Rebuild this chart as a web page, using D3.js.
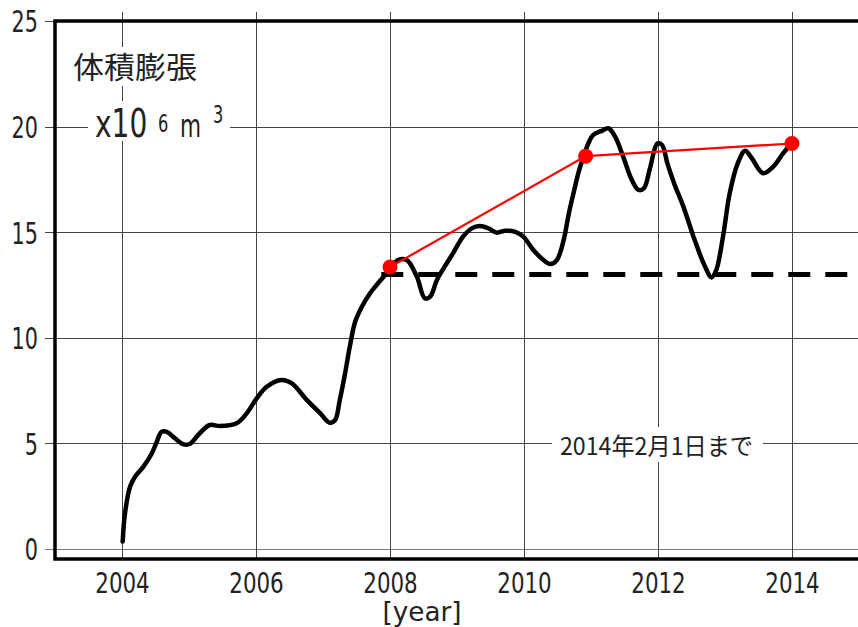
<!DOCTYPE html>
<html><head><meta charset="utf-8">
<script src="https://cdn.jsdelivr.net/npm/d3@7"></script>
<style>
html,body{margin:0;padding:0;background:#fff;}
svg{display:block;}
.num{font-family:"Liberation Sans Narrow","DejaVu Sans Condensed","Arial Narrow",sans-serif;}
.cjk{font-family:"Noto Sans CJK JP","Noto Sans CJK SC",sans-serif;}
</style>
</head><body>
<svg id="c" width="858" height="627"></svg>
<script>
// ---- data ----
const years = [2004.01,2004.045,2004.12,2004.19,2004.32,2004.44,2004.52,2004.59,2004.67,2004.79,2004.91,2005.01,2005.16,2005.31,2005.46,2005.71,2005.86,2006.01,2006.16,2006.38,2006.53,2006.76,2006.96,2007.10,2007.18,2007.25,2007.33,2007.40,2007.48,2007.58,2007.70,2007.80,2007.88,2007.97,2008.12,2008.25,2008.40,2008.52,2008.60,2008.70,2008.80,2008.94,2009.09,2009.22,2009.34,2009.47,2009.59,2009.72,2009.87,2009.99,2010.14,2010.29,2010.39,2010.49,2010.59,2010.67,2010.75,2010.82,2010.89,2010.96,2011.03,2011.16,2011.26,2011.36,2011.48,2011.61,2011.71,2011.79,2011.88,2011.99,2012.06,2012.14,2012.24,2012.38,2012.53,2012.68,2012.80,2012.87,2012.97,2013.07,2013.19,2013.30,2013.40,2013.57,2013.72,2013.87,2013.97];
const volume = [0.35,1.7,2.95,3.4,3.9,4.5,5.08,5.55,5.55,5.24,4.97,4.97,5.48,5.87,5.82,5.95,6.42,7.13,7.68,8.0,7.85,7.05,6.42,5.98,6.1,7.05,8.32,9.58,10.76,11.47,12.1,12.5,12.8,13.13,13.68,13.68,12.9,11.87,11.95,12.74,13.29,14.0,14.79,15.18,15.29,15.18,14.98,15.07,15.02,14.79,14.16,13.68,13.49,13.68,14.6,15.9,17.0,17.9,18.6,19.2,19.6,19.8,19.92,19.52,18.58,17.47,17.0,17.08,18.02,19.2,19.13,18.26,17.32,16.2,14.79,13.53,12.86,13.21,14.79,16.84,18.26,18.86,18.5,17.79,18.1,18.74,19.13];
const trendYears = [2008.0, 2010.92, 2014.0];
const trendValues = [13.35, 18.6, 19.2];
const baselineYears = [2007.87, 2015];
const baselineValue = 13;
const xTicks = [2004, 2006, 2008, 2010, 2012, 2014];
const yTicks = [0, 5, 10, 15, 20, 25];
const titleText = "体積膨張";
const dateNote = "2014年2月1日まで";
const xLabel = "[year]";

// ---- scales ----
const svg = d3.select("#c");
const x = d3.scaleLinear().domain([2003, 2015]).range([55, 859]);
const y = d3.scaleLinear().domain([0, 25]).range([549, 21]);
const frameBottom = 559, frameLeft = 55, frameRight = 858, frameTop = y(25);

// gridlines
const grid = svg.append("g").attr("stroke", "#444").attr("stroke-width", 1).attr("shape-rendering", "crispEdges");
grid.selectAll("line.h").data(yTicks).join("line")
  .attr("x1", 45).attr("x2", frameRight)
  .attr("y1", d => Math.round(y(d)) + 0.5).attr("y2", d => Math.round(y(d)) + 0.5)
  .attr("stroke", d => d === 0 ? "#777" : "#444");
grid.selectAll("line.v").data(xTicks).join("line")
  .attr("x1", d => Math.round(x(d)) + 0.5).attr("x2", d => Math.round(x(d)) + 0.5)
  .attr("y1", 12).attr("y2", frameBottom);

const digitW = 13.2;
// axes (labels only)
const yAxis = svg.append("g").attr("transform", `translate(${frameLeft},0)`)
  .call(d3.axisLeft(y).tickValues(yTicks).tickSize(0).tickPadding(17).tickFormat(d3.format("d")));
yAxis.select(".domain").remove();
yAxis.selectAll("text").attr("class", "num").attr("font-size", 30).attr("fill", "#222").attr("dy", "0.36em")
  .attr("textLength", d => String(d).length * digitW).attr("lengthAdjust", "spacingAndGlyphs");

const xAxis = svg.append("g").attr("transform", `translate(0,${frameBottom})`)
  .call(d3.axisBottom(x).tickValues(xTicks).tickSize(0).tickPadding(13).tickFormat(d3.format("d")));
xAxis.select(".domain").remove();
xAxis.selectAll("text").attr("class", "num").attr("font-size", 29).attr("fill", "#222").attr("dy", "0.71em")
  .attr("textLength", d => String(d).length * 13.6).attr("lengthAdjust", "spacingAndGlyphs");

svg.append("text").attr("class", "num").attr("x", 422).attr("y", 621)
  .attr("text-anchor", "middle").attr("font-size", 27).attr("fill", "#222")
  .attr("textLength", 79).attr("lengthAdjust", "spacingAndGlyphs").text(xLabel);

// unit labels with white backing
svg.append("rect").attr("x", 68).attr("y", 47).attr("width", 134).attr("height", 39).attr("fill", "#fff");
svg.append("text").attr("class", "cjk").attr("x", 73).attr("y", 78).attr("font-size", 30)
  .attr("fill", "#222").attr("textLength", 124).attr("lengthAdjust", "spacingAndGlyphs").text(titleText);

svg.append("rect").attr("x", 88).attr("y", 101).attr("width", 142).attr("height", 40).attr("fill", "#fff");
const unitParts = [
  {t: "x10", x: 95, y: 137, s: 39, sx: 0.8},
  {t: "6", x: 158, y: 132, s: 24, sx: 0.75},
  {t: "m", x: 180, y: 137, s: 32, sx: 0.75},
  {t: "3", x: 213, y: 123, s: 24, sx: 0.75}
];
svg.selectAll("text.unit").data(unitParts).join("text")
  .attr("class", "num unit")
  .attr("transform", d => `translate(${d.x},${d.y}) scale(${d.sx},1)`)
  .attr("font-size", d => d.s)
  .attr("fill", "#222").text(d => d.t);

svg.append("rect").attr("x", 552).attr("y", 427).attr("width", 211).attr("height", 35).attr("fill", "#fff");
svg.append("text").attr("class", "cjk").attr("x", 560).attr("y", 455).attr("font-size", 24)
  .attr("fill", "#222").attr("textLength", 193).attr("lengthAdjust", "spacingAndGlyphs").text(dateNote);

// dashed reference
svg.append("line")
  .attr("x1", x(baselineYears[0])).attr("x2", x(baselineYears[1]))
  .attr("y1", y(baselineValue)).attr("y2", y(baselineValue))
  .attr("stroke", "#000").attr("stroke-width", 5).attr("stroke-dasharray", "22,15");

// main curve
const pts = years.map((d, i) => [d, volume[i]]);
svg.append("path").datum(pts)
  .attr("fill", "none").attr("stroke", "#000").attr("stroke-width", 4.5)
  .attr("stroke-linejoin", "round").attr("stroke-linecap", "round")
  .attr("d", d3.line().x(d => x(d[0])).y(d => y(d[1])).curve(d3.curveCatmullRom.alpha(0.5)));

// red trend
const tp = trendYears.map((d, i) => [d, trendValues[i]]);
svg.append("path").datum(tp).attr("fill", "none").attr("stroke", "#f00").attr("stroke-width", 2.2)
  .attr("d", d3.line().x(d => x(d[0])).y(d => y(d[1])));
svg.selectAll("circle.t").data(tp).join("circle")
  .attr("cx", d => x(d[0])).attr("cy", d => y(d[1])).attr("r", 7.5).attr("fill", "#f00");

// frame
svg.append("path")
  .attr("d", `M${frameRight + 5},${frameTop} H${frameLeft} V${frameBottom} H${frameRight + 5}`)
  .attr("fill", "none").attr("stroke", "#000").attr("stroke-width", 3.5);
</script>
</body></html>
